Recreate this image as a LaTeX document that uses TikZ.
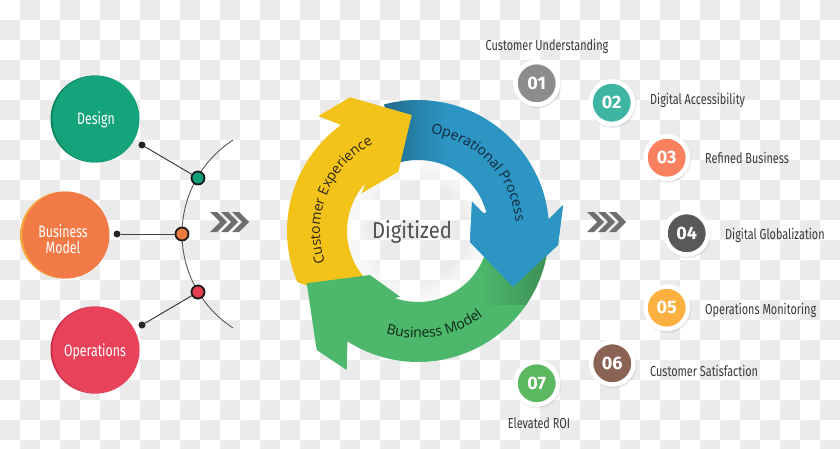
\documentclass[tikz,border=0pt]{standalone}
\usepackage{fontspec}
\setmainfont{Fira Sans}
\newfontfamily\condf[FakeStretch=0.75]{Fira Sans}
\newfontfamily\digf[FakeStretch=0.88]{Fira Sans}
\newfontfamily\ringf{Open Sans}
\usetikzlibrary{decorations.text,fadings,shadows}
\definecolor{chk}{HTML}{EBEBEB}
\definecolor{designc}{HTML}{15A37B}
\definecolor{designrim}{HTML}{0C855F}
\definecolor{busc}{HTML}{F27A47}
\definecolor{busrim}{HTML}{F5A53A}
\definecolor{opc}{HTML}{E9435B}
\definecolor{oprim}{HTML}{C92E48}
\definecolor{pg}{HTML}{12A07A}
\definecolor{po}{HTML}{F07B40}
\definecolor{pr}{HTML}{E53E52}
\definecolor{chevgray}{HTML}{6E6E6E}
\definecolor{ycol}{HTML}{F3C319}
\definecolor{bcol}{HTML}{2D95C3}
\definecolor{gcol}{HTML}{4DB86C}
\definecolor{ytext}{HTML}{2E2612}
\definecolor{btext}{HTML}{14283A}
\definecolor{gtext}{HTML}{112616}
\definecolor{digc}{HTML}{505050}
\definecolor{labc}{HTML}{383838}
\definecolor{na}{HTML}{8C8C8C}
\definecolor{nb}{HTML}{3DB5A2}
\definecolor{nc}{HTML}{FA8160}
\definecolor{nd}{HTML}{595959}
\definecolor{ne}{HTML}{FCB040}
\definecolor{nf}{HTML}{8B6355}
\definecolor{ng}{HTML}{5CB85F}
\def\ypath{plot[domain=157:234,samples=50] ({418+131*cos(\x)},{231+131*sin(\x)}) -- (318.3,116) -- (350,97.3) -- (411.7,115) -- (398.3,171.7) -- (361.7,193.3) -- (368.3,175) -- plot[domain=227:135,samples=50] ({418+71*cos(\x)},{231+71*sin(\x)}) -- (320,290) -- cycle}
\def\bpath{plot[domain=255:355,samples=50] ({418+131*cos(\x)},{231+131*sin(\x)}) -- (563,205) -- (558,245) -- (513,287) -- (470,242) -- (472,202) -- (483,213) -- plot[domain=345:255,samples=50] ({418+71*cos(\x)},{231+71*sin(\x)}) -- cycle}
\def\bhead{plot[domain=335:355,samples=10] ({418+131*cos(\x)},{231+131*sin(\x)}) -- (563,205) -- (558,245) -- (513,287) -- (470,242) -- (472,202) -- (483,213) -- plot[domain=345:335,samples=10] ({418+71*cos(\x)},{231+71*sin(\x)}) -- cycle}
\def\gpath{plot[domain=3:122.6,samples=60] ({418+131*cos(\x)},{231+131*sin(\x)}) -- (346.7,370) -- (316.7,350) -- (306.7,283.3) -- (370,275) -- (400,296.7) -- (386.7,300) -- plot[domain=114:3,samples=60] ({418+71*cos(\x)},{231+71*sin(\x)}) -- cycle}
\newcommand\chevshape[2]{\fill[chevgray] (#1,#2) -- ++(7,0) -- ++(10,10) -- ++(-10,10) -- ++(-7,0) -- ++(10,-10) -- cycle;}
\begin{document}
\begin{tikzpicture}[x=1pt,y=-1pt,
  bigc/.style={circle, minimum size=87pt, inner sep=0pt},
  bigtxt/.style={text=white, font=\condf\fontsize{16.5}{16}\selectfont, align=center, inner sep=0pt},
  enddot/.style={circle, fill=black!85, minimum size=7pt, inner sep=0pt},
  hubpin/.style={circle, draw=black!90, line width=1.8pt, minimum size=13pt, inner sep=0pt},
  conn/.style={draw=black!75, line width=1pt},
  arcline/.style={draw=black!65, line width=0.9pt},
  numc/.style={circle, minimum size=42.5pt, inner sep=0pt, draw=white, line width=4.5pt, text=white, font=\bfseries\fontsize{18}{18}\selectfont, circular drop shadow={shadow xshift=0.6pt, shadow yshift=-1.2pt, opacity=0.3, shadow scale=1.14}},
  lab/.style={text=labc, font=\condf\fontsize{14.5}{15}\selectfont, inner sep=0pt},
  ringtext/.style={decorate, decoration={text along path, text align=center, text={#1}}}
]
\useasboundingbox (0,0) rectangle (840,449);
\fill[white] (0,0) rectangle (840,449);
\fill[chk] \foreach \rowj in {0,...,22}{\foreach \coli in {0,...,41}{ [shift={(\coli*20,\rowj*20)}] {(0,0) rectangle (20,20)} }};
\fill[white] \foreach \rowj in {0,...,22}{\foreach \coli in {0,...,20}{ ({(2*\coli+mod(\rowj,2))*20},{\rowj*20}) rectangle ++(20,20) }};

% left circles
\fill[designrim] (94,119) circle[radius=43.5];
\node[bigc, fill=designc] (design) at (96,119) {};
\node[bigtxt] (designt) at (96,120) {Design};
\fill[busrim] (63.5,235) circle[radius=43.5];
\node[bigc, fill=busc] (bus) at (66,235) {};
\node[bigtxt] (bust) at (63,239) {Business\\Model};
\fill[oprim] (94,350) circle[radius=43.5];
\node[bigc, fill=opc] (ops) at (96,350) {};
\node[bigtxt] (opst) at (95,352) {Operations};

% arc and hubs
\draw[arcline] plot[domain=123:237,samples=60] ({294+112*cos(\x)},{234+112*sin(\x)});
\node[enddot] (dd) at (142,145) {};
\node[enddot] (db) at (117,234) {};
\node[enddot] (do) at (142,325) {};
\node[hubpin, fill=pg] (hd) at (198,178) {};
\node[hubpin, fill=po] (hb) at (182,234) {};
\node[hubpin, fill=pr] (ho) at (198,292) {};
\draw[conn] (dd) -- (hd);
\draw[conn] (db) -- (hb);
\draw[conn] (do) -- (ho);

% chevrons
\chevshape{210}{212}\chevshape{221}{212}\chevshape{232}{212}
\chevshape{587}{212}\chevshape{598}{212}\chevshape{609}{212}

% hole glow
\foreach \r in {50,53,...,68}{\fill[white, opacity=0.18, even odd rule] (418,231) circle[radius=71] circle[radius=\r];}

% ring
\fill[bcol] \bpath;
\begin{scope}
\clip \bpath;
\fill[black, opacity=0.3, path fading=east] (378,95) rectangle (445,180);
\end{scope}
\fill[ycol] \ypath;
\fill[gcol] \gpath;
\begin{scope}
\clip \gpath;
\fill[black, opacity=0.25, path fading=west] (480,230) rectangle (560,305);
\end{scope}
\fill[bcol] \bhead;

\path[ringtext={|\ringf\fontsize{14}{14}\selectfont\color{ytext}|Customer Experience}] plot[domain=150:254,samples=80] ({418+98*cos(\x)},{231+98*sin(\x)});
\path[ringtext={|\ringf\fontsize{14}{14}\selectfont\color{btext}|Operational Process}] plot[domain=264:368,samples=80] ({418+98*cos(\x)},{231+98*sin(\x)});
\path[ringtext={|\ringf\fontsize{14}{14}\selectfont\color{gtext}|Business Model}] plot[domain=130:30,samples=80] ({418+107*cos(\x)},{231+107*sin(\x)});

\node[font=\digf\fontsize{23}{23}\selectfont, text=digc, anchor=base, inner sep=0pt] (dig) at (412,238) {Digitized};

% numbered items
\node[numc, fill=na] (n1) at (536.7,83.3) {01};
\node[numc, fill=nb] (n2) at (611.7,102.7) {02};
\node[numc, fill=nc] (n3) at (666.7,157.7) {03};
\node[numc, fill=nd] (n4) at (686.7,233.3) {04};
\node[numc, fill=ne] (n5) at (666.7,307.7) {05};
\node[numc, fill=nf] (n6) at (612.3,363.3) {06};
\node[numc, fill=ng] (n7) at (536.7,383.3) {07};
\node[lab] (l1) at (547,46) {Customer Understanding};
\node[lab, anchor=west] (l2) at (650,100) {Digital Accessibility};
\node[lab, anchor=west] (l3) at (705,158) {Refined Business};
\node[lab, anchor=west] (l4) at (725,235) {Digital Globalization};
\node[lab, anchor=west] (l5) at (705,310) {Operations Monitoring};
\node[lab, anchor=west] (l6) at (650,371) {Customer Satisfaction};
\node[lab] (l7) at (539,423) {Elevated ROI};
\end{tikzpicture}
\end{document}
